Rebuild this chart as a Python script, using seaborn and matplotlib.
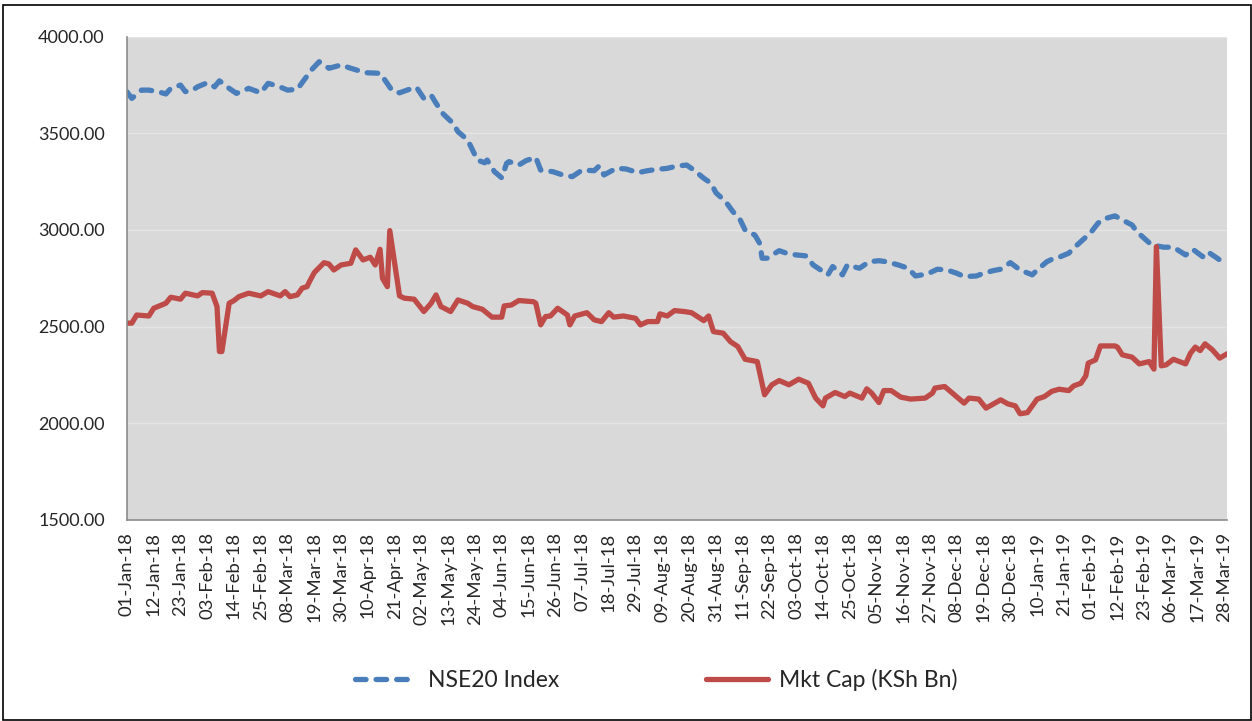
import pandas as pd
import seaborn as sns
import matplotlib.pyplot as plt
from matplotlib.patches import Rectangle

nse_dates = ["2018-01-01", "2018-01-03", "2018-01-07", "2018-01-10", "2018-01-14", "2018-01-17",
	"2018-01-19", "2018-01-23", "2018-01-25", "2018-01-28", "2018-01-30", "2018-02-03",
	"2018-02-06", "2018-02-08", "2018-02-12", "2018-02-15", "2018-02-20", "2018-02-25",
	"2018-02-28", "2018-03-04", "2018-03-08", "2018-03-12", "2018-03-15", "2018-03-18",
	"2018-03-21", "2018-03-25", "2018-03-30", "2018-04-03", "2018-04-09", "2018-04-15",
	"2018-04-17", "2018-04-20", "2018-04-23", "2018-04-27", "2018-04-30", "2018-05-03",
	"2018-05-06", "2018-05-08", "2018-05-11", "2018-05-15", "2018-05-17", "2018-05-21",
	"2018-05-23", "2018-05-25", "2018-05-28", "2018-05-29", "2018-06-01", "2018-06-04",
	"2018-06-06", "2018-06-07", "2018-06-11", "2018-06-14", "2018-06-18", "2018-06-20",
	"2018-06-25", "2018-06-29", "2018-07-03", "2018-07-07", "2018-07-12", "2018-07-14",
	"2018-07-16", "2018-07-21", "2018-07-25", "2018-07-30", "2018-08-03", "2018-08-07",
	"2018-08-11", "2018-08-15", "2018-08-19", "2018-08-22", "2018-08-26", "2018-08-29",
	"2018-08-31", "2018-09-04", "2018-09-07", "2018-09-10", "2018-09-12", "2018-09-16",
	"2018-09-18", "2018-09-19", "2018-09-21", "2018-09-26", "2018-09-29", "2018-10-03",
	"2018-10-07", "2018-10-10", "2018-10-14", "2018-10-16", "2018-10-18", "2018-10-22",
	"2018-10-24", "2018-10-29", "2018-11-02", "2018-11-06", "2018-11-09", "2018-11-14",
	"2018-11-18", "2018-11-21", "2018-11-26", "2018-11-30", "2018-12-04", "2018-12-08",
	"2018-12-11", "2018-12-16", "2018-12-19", "2018-12-23", "2018-12-26", "2018-12-30",
	"2019-01-03", "2019-01-08", "2019-01-10", "2019-01-14", "2019-01-17", "2019-01-19",
	"2019-01-23", "2019-01-25", "2019-01-28", "2019-02-01", "2019-02-04", "2019-02-06",
	"2019-02-11", "2019-02-14", "2019-02-18", "2019-02-20", "2019-02-23", "2019-02-26",
	"2019-03-03", "2019-03-07", "2019-03-12", "2019-03-15", "2019-03-19", "2019-03-21",
	"2019-03-25", "2019-03-27", "2019-03-29"]
nse_values = [3715, 3681, 3724, 3724, 3715, 3704,
	3733, 3750, 3716, 3724, 3741, 3762,
	3741, 3772, 3733, 3707, 3733, 3710,
	3759, 3745, 3724, 3728, 3780, 3831,
	3871, 3837, 3854, 3837, 3814, 3811,
	3776, 3721, 3710, 3728, 3738, 3681,
	3698, 3656, 3600, 3552, 3509, 3466,
	3414, 3362, 3348, 3362, 3302, 3270,
	3345, 3354, 3336, 3359, 3376, 3310,
	3302, 3285, 3276, 3310, 3307, 3331,
	3285, 3319, 3316, 3297, 3307, 3314,
	3319, 3331, 3336, 3310, 3268, 3242,
	3193, 3147, 3095, 3052, 3000, 2974,
	2931, 2854, 2854, 2893, 2880, 2871,
	2866, 2819, 2785, 2768, 2811, 2768,
	2819, 2802, 2836, 2841, 2836, 2819,
	2802, 2762, 2773, 2797, 2793, 2776,
	2759, 2762, 2776, 2790, 2797, 2831,
	2793, 2768, 2793, 2836, 2854, 2859,
	2880, 2906, 2940, 2986, 3035, 3056,
	3073, 3052, 3026, 2991, 2957, 2923,
	2911, 2911, 2871, 2900, 2862, 2888,
	2854, 2836, 2845]

cap_dates = ["2018-01-01", "2018-01-03", "2018-01-05", "2018-01-10", "2018-01-12", "2018-01-17",
	"2018-01-19", "2018-01-23", "2018-01-25", "2018-01-30", "2018-02-01", "2018-02-05",
	"2018-02-07", "2018-02-08", "2018-02-09", "2018-02-12", "2018-02-14", "2018-02-16",
	"2018-02-20", "2018-02-25", "2018-02-28", "2018-03-05", "2018-03-07", "2018-03-09",
	"2018-03-12", "2018-03-14", "2018-03-16", "2018-03-17", "2018-03-19", "2018-03-23",
	"2018-03-25", "2018-03-27", "2018-03-30", "2018-04-03", "2018-04-05", "2018-04-08",
	"2018-04-11", "2018-04-13", "2018-04-15", "2018-04-16", "2018-04-18", "2018-04-19",
	"2018-04-23", "2018-04-25", "2018-04-29", "2018-05-03", "2018-05-06", "2018-05-08",
	"2018-05-10", "2018-05-14", "2018-05-17", "2018-05-21", "2018-05-23", "2018-05-27",
	"2018-05-31", "2018-06-04", "2018-06-05", "2018-06-08", "2018-06-11", "2018-06-17",
	"2018-06-18", "2018-06-20", "2018-06-22", "2018-06-24", "2018-06-27", "2018-07-01",
	"2018-07-02", "2018-07-04", "2018-07-09", "2018-07-12", "2018-07-15", "2018-07-18",
	"2018-07-20", "2018-07-24", "2018-07-29", "2018-07-31", "2018-08-03", "2018-08-07",
	"2018-08-08", "2018-08-11", "2018-08-14", "2018-08-18", "2018-08-21", "2018-08-26",
	"2018-08-28", "2018-08-30", "2018-09-03", "2018-09-06", "2018-09-09", "2018-09-12",
	"2018-09-17", "2018-09-20", "2018-09-23", "2018-09-26", "2018-09-30", "2018-10-04",
	"2018-10-08", "2018-10-11", "2018-10-14", "2018-10-15", "2018-10-19", "2018-10-23",
	"2018-10-25", "2018-10-30", "2018-11-01", "2018-11-03", "2018-11-06", "2018-11-08",
	"2018-11-11", "2018-11-15", "2018-11-19", "2018-11-25", "2018-11-28", "2018-11-29",
	"2018-12-03", "2018-12-07", "2018-12-11", "2018-12-13", "2018-12-17", "2018-12-20",
	"2018-12-24", "2018-12-26", "2018-12-29", "2019-01-01", "2019-01-03", "2019-01-06",
	"2019-01-10", "2019-01-13", "2019-01-16", "2019-01-19", "2019-01-23", "2019-01-25",
	"2019-01-28", "2019-01-30", "2019-01-31", "2019-02-03", "2019-02-05", "2019-02-11",
	"2019-02-12", "2019-02-14", "2019-02-18", "2019-02-21", "2019-02-25", "2019-02-27",
	"2019-02-28", "2019-03-02", "2019-03-04", "2019-03-07", "2019-03-12", "2019-03-14",
	"2019-03-16", "2019-03-18", "2019-03-20", "2019-03-23", "2019-03-26", "2019-03-29"]
cap_values = [2518, 2518, 2560, 2555, 2595, 2621,
	2652, 2642, 2673, 2659, 2676, 2673,
	2604, 2371, 2371, 2621, 2635, 2655,
	2673, 2659, 2681, 2659, 2681, 2655,
	2664, 2699, 2707, 2733, 2780, 2831,
	2824, 2793, 2819, 2828, 2897, 2845,
	2859, 2819, 2900, 2750, 2707, 2997,
	2659, 2647, 2642, 2578, 2621, 2664,
	2604, 2578, 2638, 2621, 2604, 2590,
	2549, 2549, 2607, 2612, 2635, 2629,
	2621, 2509, 2552, 2555, 2595, 2560,
	2509, 2555, 2572, 2535, 2526, 2572,
	2549, 2555, 2543, 2509, 2526, 2526,
	2566, 2555, 2583, 2578, 2572, 2531,
	2555, 2474, 2466, 2422, 2397, 2331,
	2319, 2147, 2199, 2221, 2199, 2228,
	2207, 2130, 2090, 2130, 2159, 2138,
	2156, 2130, 2178, 2156, 2107, 2169,
	2169, 2135, 2125, 2130, 2156, 2182,
	2190, 2147, 2104, 2130, 2125, 2078,
	2107, 2121, 2100, 2090, 2049, 2055,
	2125, 2138, 2165, 2176, 2169, 2193,
	2207, 2245, 2311, 2328, 2400, 2400,
	2394, 2354, 2342, 2307, 2319, 2280,
	2914, 2297, 2302, 2331, 2307, 2362,
	2394, 2376, 2411, 2380, 2337, 2359]

nse = pd.DataFrame({"Date": pd.to_datetime(nse_dates), "Value": nse_values})
cap = pd.DataFrame({"Date": pd.to_datetime(cap_dates), "Value": cap_values})

sns.set_style("white")
plt.rcParams["font.family"] = ["Lato", "DejaVu Sans"]

fig = plt.figure(figsize=(12.52, 7.21), dpi=100)
ax = fig.add_axes([0.1014, 0.279, 0.8786, 0.670])
ax.set_facecolor("#D9D9D9")

sns.lineplot(data=nse, x="Date", y="Value", ax=ax, color="#4A7EBB", linewidth=3.8,
	linestyle=(0, (2.0, 1.9)), dash_capstyle="round", label="NSE20 Index")
sns.lineplot(data=cap, x="Date", y="Value", ax=ax, color="#BE4B48", linewidth=3.8,
	label="Mkt Cap (KSh Bn)")

ax.set_ylim(1500, 4000)
ax.set_yticks([1500, 2000, 2500, 3000, 3500, 4000])
ax.set_yticklabels(["{:.2f}".format(v) for v in ax.get_yticks()], fontsize=13)
ax.yaxis.grid(True, color="#E4E4E4", linewidth=1)
ax.set_axisbelow(True)

ticks = pd.date_range("2018-01-01", "2019-03-28", freq="11D")
ax.set_xticks(ticks)
ax.set_xticklabels([t.strftime("%d-%b-%y") for t in ticks], rotation=90, fontsize=13.3)
ax.set_xlim(pd.Timestamp("2018-01-01"), pd.Timestamp("2019-03-29"))
ax.tick_params(axis="x", length=0, pad=9)
ax.tick_params(axis="y", length=0, pad=16)
ax.set_xlabel("")
ax.set_ylabel("")

for side in ["top", "right"]:
	ax.spines[side].set_visible(False)
for side in ["left", "bottom"]:
	ax.spines[side].set_color("#8C8C8C")
	ax.spines[side].set_linewidth(1.2)

handles, labels = ax.get_legend_handles_labels()
ax.get_legend().remove()
fig.legend(handles, labels, loc="center", bbox_to_anchor=(0.524, 0.057), ncol=2,
	frameon=False, fontsize=16.5, handlelength=2.7, handletextpad=0.5, columnspacing=6.4)

fig.patches.append(Rectangle((0.002, 0.001), 0.997, 0.992, transform=fig.transFigure,
	fill=False, edgecolor="black", linewidth=1.2))

plt.savefig("out.png", dpi=100)
